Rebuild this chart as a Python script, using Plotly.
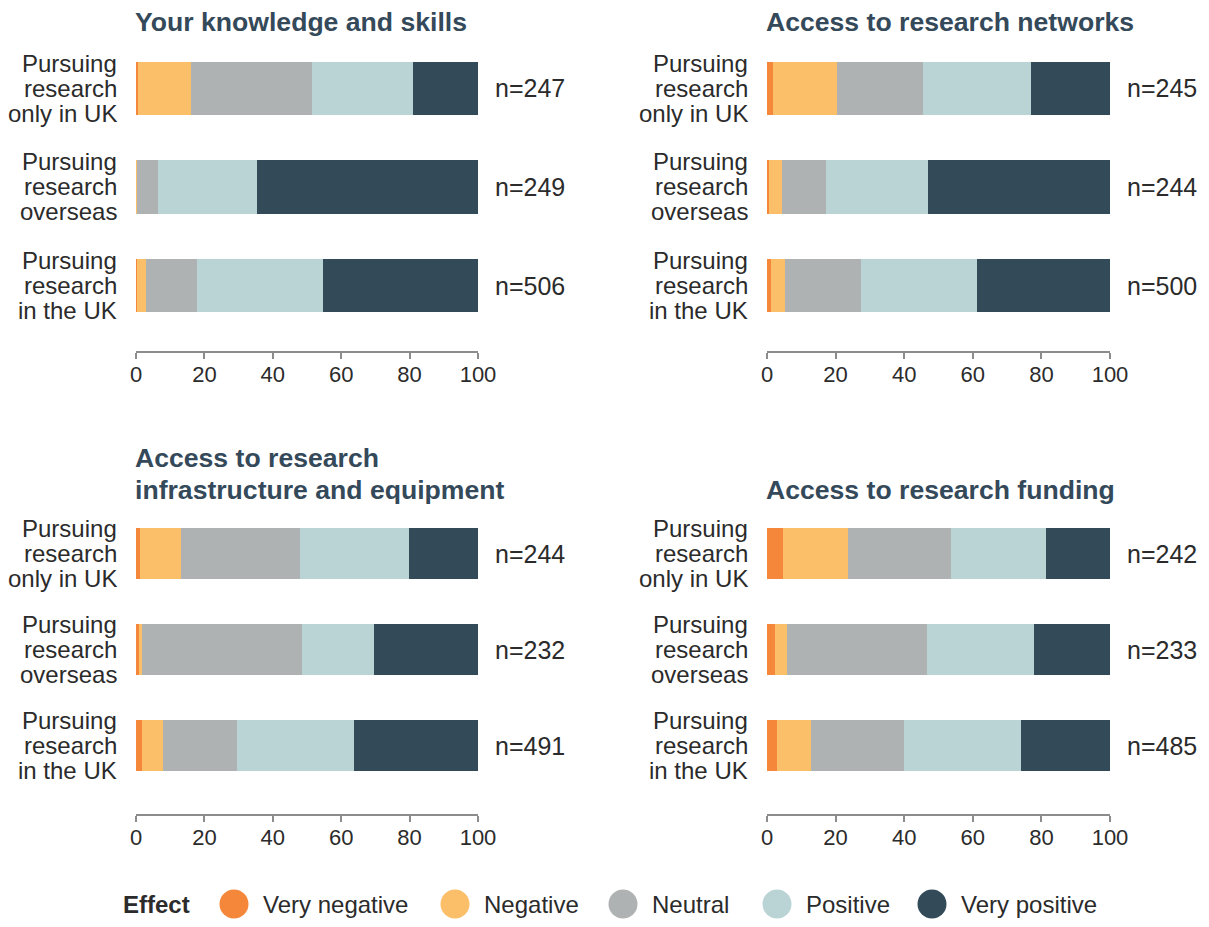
import plotly.graph_objects as go
from plotly.subplots import make_subplots

# Data (percent of respondents)
panel_titles = [
    'Your knowledge and skills',
    'Access to research networks',
    'Access to research<br>infrastructure and equipment',
    'Access to research funding',
]
row_labels = [
    'Pursuing<br>research<br>only in UK',
    'Pursuing<br>research<br>overseas',
    'Pursuing<br>research<br>in the UK',
]
effects = ['Very negative', 'Negative', 'Neutral', 'Positive', 'Very positive']

# one inner list per panel, rows in the order of row_labels
very_negative = [[0.6, 0.0, 0.2], [1.8, 0.6, 1.2], [1.2, 0.9, 1.8], [4.7, 2.3, 2.9]]
negative = [[15.5, 0.3, 2.7], [18.6, 3.8, 4.1], [12.0, 0.9, 6.1], [19.0, 3.5, 10.0]]
neutral = [[35.4, 6.1, 14.9], [25.1, 12.8, 22.1], [34.8, 46.7, 21.6], [29.8, 40.9, 26.9]]
positive = [[29.5, 28.9, 36.8], [31.5, 29.8, 33.9], [31.8, 21.1, 34.2], [27.8, 31.0, 34.2]]
very_positive = [[19.0, 64.7, 45.4], [23.0, 53.0, 38.7], [20.2, 30.4, 36.3], [18.7, 22.3, 26.0]]
n_counts = [[247, 249, 506], [245, 244, 500], [244, 232, 491], [242, 233, 485]]

series = [very_negative, negative, neutral, positive, very_positive]
colors = ['#F5873B', '#FCBF69', '#AFB2B3', '#BAD4D5', '#334A59']

FONT = 'Liberation Sans, Arial, sans-serif'
TITLE_COLOR = '#34495A'
TEXT_COLOR = '#2B2B2B'
# page body has an 8px margin; keep the figure inside the window
OFF = 8
W, H = 1209 - 2 * OFF, 927 - 2 * OFF


def px_x(x):
    return (x - OFF) / W


def px_y(y):
    return 1 - (y - OFF) / H


fig = make_subplots(rows=2, cols=2)

cats = [lbl.replace('<br>', ' ') for lbl in row_labels]
for p in range(4):
    r, c = p // 2 + 1, p % 2 + 1
    for name, vals, col in zip(effects, series, colors):
        fig.add_trace(go.Bar(x=vals[p], y=cats, orientation='h', name=name,
                             marker=dict(color=col, line=dict(width=0)),
                             showlegend=False), row=r, col=c)

# Panel placement (window pixels -> paper)
x_doms = [(px_x(136), px_x(478)), (px_x(767), px_x(1110))]
y_doms = [(px_y(351), px_y(39.25)), (px_y(814), px_y(505.5))]
y_ranges = [[2.665, -0.5], [2.7135, -0.5]]

annotations = []
for p in range(4):
    ri, ci = p // 2, p % 2
    ax = '' if p == 0 else str(p + 1)
    fig.layout['xaxis' + ax].update(
        domain=x_doms[ci], range=[0, 100], tickvals=[0, 20, 40, 60, 80, 100],
        showgrid=False, zeroline=False, showline=True, linecolor='#8C8C8C', linewidth=1.5,
        ticks='outside', ticklen=6, tickwidth=1.5, tickcolor='#8C8C8C', automargin=False,
        ticklabelstandoff=-3,
        tickfont=dict(size=22, color=TEXT_COLOR, family=FONT))
    fig.layout['yaxis' + ax].update(
        domain=y_doms[ri], range=y_ranges[ri], showticklabels=False, automargin=False,
        showgrid=False, zeroline=False, showline=False, ticks='')

    xref = 'x' + ax + ' domain'
    yref = 'y' + ax
    for i, lbl in enumerate(row_labels):
        for k, line in enumerate(lbl.split('<br>')):
            annotations.append(dict(text=line, xref=xref, x=0, xanchor='right', xshift=-17,
                                    yref=yref, y=i, yanchor='middle', yshift=25 - 25 * k,
                                    showarrow=False,
                                    font=dict(size=24, color=TEXT_COLOR, family=FONT)))
        annotations.append(dict(text='n=%d' % n_counts[p][i], xref=xref, x=1, xanchor='left',
                                xshift=15, yref=yref, y=i, yanchor='middle', showarrow=False,
                                font=dict(size=25, color=TEXT_COLOR, family=FONT)))

    # panel title, last line aligned with the others in its row
    lines = panel_titles[p].split('<br>')
    base_y = 22 if ri == 0 else 490
    for k, line in enumerate(reversed(lines)):
        annotations.append(dict(text='<b>%s</b>' % line, xref=xref, x=0, xanchor='left',
                                xshift=-3, yref='paper', y=px_y(base_y - 32 * k),
                                yanchor='middle', showarrow=False,
                                font=dict(size=26.6, color=TITLE_COLOR, family=FONT)))

# Legend drawn by hand so the keys can be large circles
legend_y = px_y(904)
annotations.append(dict(text='<b>Effect</b>', xref='paper', x=px_x(121), xanchor='left',
                        yref='paper', y=legend_y, yanchor='middle', showarrow=False,
                        font=dict(size=24, color=TEXT_COLOR, family=FONT)))
circle_x = [234, 455, 623, 777, 932]
shapes = []
for name, col, cx in zip(effects, colors, circle_x):
    shapes.append(dict(type='circle', xref='paper', yref='paper', xsizemode='pixel',
                       ysizemode='pixel', xanchor=px_x(cx), yanchor=legend_y,
                       x0=-14.5, x1=14.5, y0=-14.5, y1=14.5,
                       fillcolor=col, line=dict(width=0)))
    annotations.append(dict(text=name, xref='paper', x=px_x(cx + 27), xanchor='left',
                            yref='paper', y=legend_y, yanchor='middle', showarrow=False,
                            font=dict(size=24, color=TEXT_COLOR, family=FONT)))

fig.update_layout(
    barmode='stack', bargap=0.46,
    width=W, height=H, margin=dict(l=0, r=0, t=0, b=0, pad=0),
    paper_bgcolor='white', plot_bgcolor='white',
    font=dict(family=FONT, color=TEXT_COLOR),
    annotations=annotations, shapes=shapes,
)

fig.write_html('out.html')
